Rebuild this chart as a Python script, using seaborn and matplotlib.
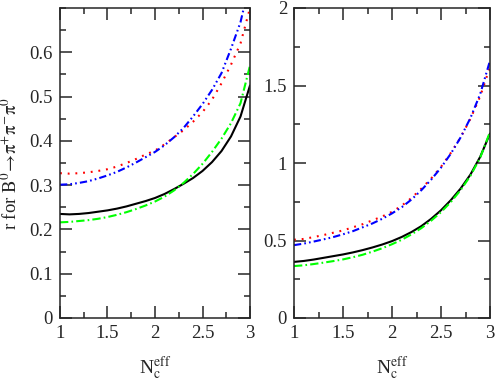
import numpy as np
import pandas as pd
import seaborn as sns
import matplotlib
matplotlib.use("Agg")
import matplotlib.pyplot as plt
from matplotlib.ticker import MultipleLocator, FixedLocator, FuncFormatter

# N_c^eff sample points
nc = [1.0, 1.1, 1.2, 1.3, 1.4, 1.5, 1.6, 1.7, 1.8, 1.9, 2.0,
      2.1, 2.2, 2.3, 2.4, 2.5, 2.6, 2.7, 2.8, 2.9, 3.0]

# left panel
left_black = [0.235, 0.234, 0.235, 0.237, 0.240, 0.243, 0.247, 0.252, 0.258, 0.264, 0.271,
              0.280, 0.291, 0.303, 0.316, 0.332, 0.352, 0.377, 0.410, 0.455, 0.525]
left_red = [0.327, 0.326, 0.327, 0.329, 0.332, 0.336, 0.342, 0.350, 0.359, 0.369, 0.378,
            0.392, 0.408, 0.424, 0.443, 0.465, 0.493, 0.530, 0.572, 0.620, 0.700]
left_blue = [0.301, 0.302, 0.305, 0.309, 0.315, 0.322, 0.330, 0.340, 0.351, 0.363, 0.375,
             0.390, 0.408, 0.429, 0.455, 0.483, 0.515, 0.553, 0.608, 0.668, 0.760]
left_green = [0.216, 0.217, 0.219, 0.221, 0.224, 0.228, 0.233, 0.239, 0.246, 0.254, 0.263,
              0.274, 0.288, 0.305, 0.325, 0.348, 0.375, 0.405, 0.440, 0.485, 0.570]

# right panel
right_black = [0.362, 0.368, 0.377, 0.388, 0.399, 0.410, 0.423, 0.438, 0.455, 0.474, 0.496,
               0.523, 0.555, 0.593, 0.640, 0.695, 0.760, 0.835, 0.925, 1.040, 1.190]
right_red = [0.505, 0.510, 0.522, 0.535, 0.550, 0.565, 0.585, 0.605, 0.630, 0.655, 0.685,
             0.725, 0.775, 0.835, 0.900, 0.975, 1.065, 1.165, 1.285, 1.430, 1.620]
right_blue = [0.470, 0.480, 0.493, 0.507, 0.522, 0.540, 0.560, 0.585, 0.610, 0.640, 0.675,
              0.715, 0.765, 0.825, 0.893, 0.970, 1.060, 1.165, 1.290, 1.445, 1.660]
right_green = [0.335, 0.340, 0.348, 0.357, 0.367, 0.378, 0.392, 0.408, 0.428, 0.450, 0.476,
               0.505, 0.540, 0.580, 0.628, 0.683, 0.748, 0.825, 0.917, 1.035, 1.200]

series_names = ["black", "red", "blue", "green"]


def make_df(vals):
    rows = []
    for name, v in zip(series_names, vals):
        for x, y in zip(nc, v):
            rows.append({"Nc": x, "r": y, "s": name})
    return pd.DataFrame(rows)


df_left = make_df([left_black, left_red, left_blue, left_green])
df_right = make_df([right_black, right_red, right_blue, right_green])

sns.set_style("ticks")
plt.rcParams["font.family"] = ["Liberation Serif", "DejaVu Serif"]
plt.rcParams["mathtext.fontset"] = "stix"

palette = {"black": "#000000", "red": "#ff0000", "blue": "#0000ff", "green": "#00ff00"}
dashes = {"black": "", "red": (0.9, 2.8),
          "blue": (3.5, 1.5, 0.8, 1.5, 0.8, 1.5),
          "green": (4.0, 1.5, 0.8, 1.5)}

fig = plt.figure(figsize=(4.95, 3.82), dpi=100)
ax1 = fig.add_axes([60 / 495, 64 / 382, 190 / 495, 310 / 382])
ax2 = fig.add_axes([294 / 495, 64 / 382, 196 / 495, 310 / 382])

for ax, df in ((ax1, df_left), (ax2, df_right)):
    sns.lineplot(data=df, x="Nc", y="r", hue="s", style="s", palette=palette,
                 dashes=dashes, linewidth=1.5, ax=ax, legend=False,
                 sort=False, estimator=None)
    ax.set_xlim(1, 3)
    ax.xaxis.set_major_locator(MultipleLocator(0.5))
    ax.xaxis.set_minor_locator(MultipleLocator(0.25))
    ax.tick_params(which="both", direction="in", top=True, right=True,
                   width=1.1, labelsize=13.5, pad=5)
    ax.tick_params(which="major", length=8.6)
    ax.tick_params(which="minor", length=4.3)
    for sp in ax.spines.values():
        sp.set_linewidth(1.1)
        sp.set_visible(True)
    fmt = FuncFormatter(lambda v, p: "%g" % round(v, 3))
    ax.xaxis.set_major_formatter(fmt)
    ax.yaxis.set_major_formatter(fmt)
    ax.set_xlabel(r"N$_{\rm c}^{\rm eff}$", fontsize=14, labelpad=9)
    ax.set_ylabel("")

ax1.set_ylim(0, 0.7)
ax1.yaxis.set_major_locator(FixedLocator([0, 0.1, 0.2, 0.3, 0.4, 0.5, 0.6]))
ax1.yaxis.set_minor_locator(FixedLocator([0.05, 0.15, 0.25, 0.35, 0.45, 0.55, 0.65, 0.7]))
ax1.set_ylabel(r"r for $\overline{\rm B}^{0}\!\rightarrow\!\pi^{+}\pi^{-}\pi^{0}$", fontsize=13.5, labelpad=6)

ax2.set_ylim(0, 2)
ax2.yaxis.set_major_locator(MultipleLocator(0.5))
ax2.yaxis.set_minor_locator(MultipleLocator(0.25))

fig.savefig("out.png", dpi=100)
